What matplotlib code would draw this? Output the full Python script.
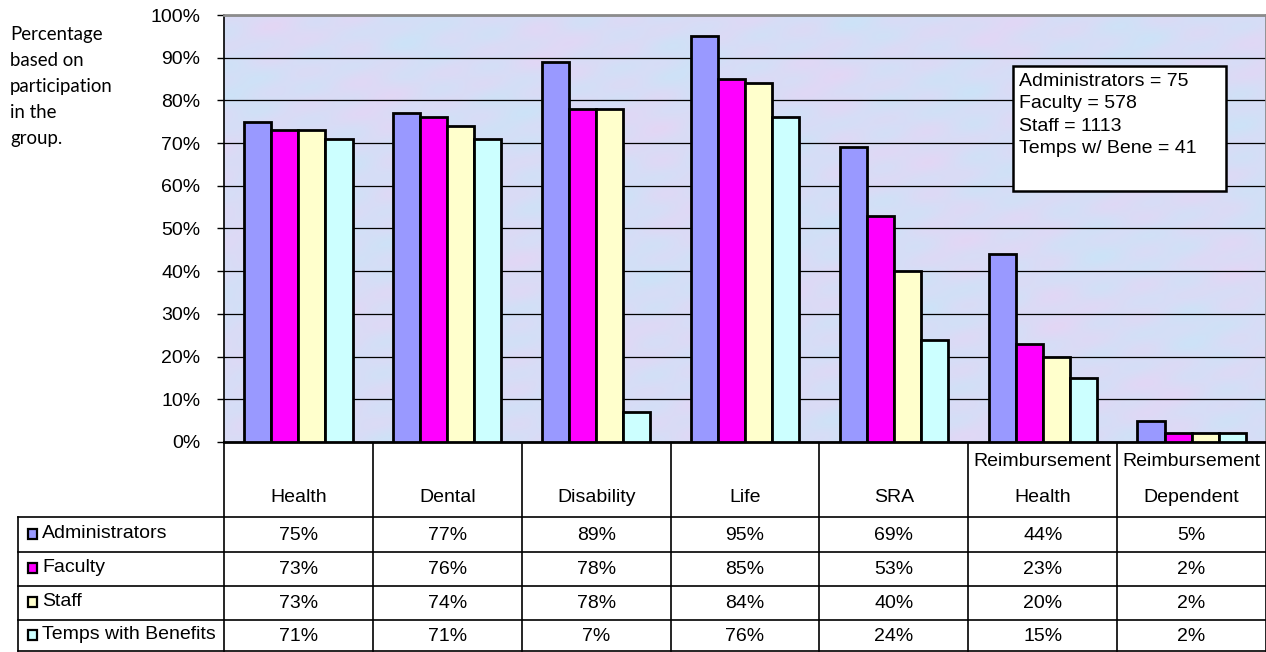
import numpy as np
import matplotlib.pyplot as plt
from matplotlib.patches import Rectangle

plt.rcParams['font.family'] = ['Liberation Sans', 'DejaVu Sans']

# data
categories = ['Health', 'Dental', 'Disability', 'Life', 'SRA',
              'Reimbursement\nHealth', 'Reimbursement\nDependent']
series = ['Administrators', 'Faculty', 'Staff', 'Temps with Benefits']
administrators = [75, 77, 89, 95, 69, 44, 5]
faculty = [73, 76, 78, 85, 53, 23, 2]
staff = [73, 74, 78, 84, 40, 20, 2]
temps = [71, 71, 7, 76, 24, 15, 2]
values = [administrators, faculty, staff, temps]
colors = ['#9999FF', '#FF00FF', '#FFFFCC', '#CCFFFF']
counts_text = 'Administrators = 75\nFaculty = 578\nStaff = 1113\nTemps w/ Bene = 41'

W, H = 1266, 652
fig = plt.figure(figsize=(W / 100, H / 100), dpi=100)
fs = 14

# plot area in pixels
left, right, top, bottom = 224, 1266, 15, 442
ax = fig.add_axes([left / W, (H - bottom) / H, (right - left) / W, (bottom - top) / H])

# textured-looking background
gx, gy = np.meshgrid(np.linspace(0, 1, 400), np.linspace(0, 1, 200))
tex = (np.sin(gx * 23 + gy * 7) * np.cos(gy * 19 - gx * 5)
       + 0.6 * np.sin(gx * 61 - gy * 43) * np.sin(gy * 37 + gx * 11)
       + 0.4 * np.cos(gx * 97 + gy * 83))
tex = (tex - tex.min()) / (tex.max() - tex.min())
blue = np.array([0.80, 0.89, 0.97])
pink = np.array([0.89, 0.84, 0.96])
img = blue[None, None, :] * (1 - tex[..., None]) + pink[None, None, :] * tex[..., None]
ax.imshow(img, extent=[-0.5, 6.5, 0, 100], aspect='auto', zorder=0, interpolation='bicubic')

n = len(series)
bw = 1 / 5.5
x = np.arange(len(categories))
for i, (vals, c) in enumerate(zip(values, colors)):
    ax.bar(x + (i - (n - 1) / 2) * bw, vals, bw, color=c, edgecolor='black',
           linewidth=2, zorder=3)

ax.set_xlim(-0.5, 6.5)
ax.set_ylim(0, 100)
ax.set_yticks(np.arange(0, 101, 10))
ax.set_yticklabels([f'{v}%' for v in range(0, 101, 10)], fontsize=fs)
ax.yaxis.grid(True, color='black', linewidth=0.9, zorder=1)
ax.set_axisbelow(True)
ax.set_xticks([])
ax.tick_params(axis='y', length=5, width=1, pad=12)
for s in ['top', 'right']:
    ax.spines[s].set_color('#8c8c8c')
    ax.spines[s].set_linewidth(2)
ax.spines['left'].set_linewidth(1.2)
ax.spines['bottom'].set_linewidth(2)

# counts box (pixel coordinates converted to axes fractions)
bx0, bx1, by0, by1 = 1013, 1226, 66, 191
ax.add_patch(Rectangle(((bx0 - left) / (right - left), (bottom - by1) / (bottom - top)),
                       (bx1 - bx0) / (right - left), (by1 - by0) / (bottom - top),
                       transform=ax.transAxes, fc='white', ec='black', lw=1.8, zorder=4))
ax.text((1019 - left) / (right - left), (bottom - 73) / (bottom - top), counts_text,
        transform=ax.transAxes, fontsize=fs, va='top', ha='left',
        linespacing=1.42, zorder=5)

# side note
fig.text(10 / W, 1 - 26 / H, 'Percentage\nbased on\nparticipation\nin the\ngroup.',
         family=['Lato', 'DejaVu Sans'], fontsize=13.4, va='top', ha='left',
         linespacing=1.65)

# data table drawn in pixel coordinates
fig.canvas.draw()
tab = fig.add_axes([0, 0, 1, 1], zorder=-1)
tab.set_xlim(0, W)
tab.set_ylim(H, 0)
tab.axis('off')
edges = [ax.transData.transform((k - 0.5, 0))[0] for k in range(len(categories) + 1)]
centers = [ax.transData.transform((k, 0))[0] for k in range(len(categories))]
row_lines = [517, 552, 586, 620, 651]
lab_left = 18
lk = dict(color='black', lw=1.2)
for e in edges:
    tab.plot([e, e], [bottom, row_lines[-1]], **lk)
tab.plot([lab_left, lab_left], [row_lines[0], row_lines[-1]], **lk)
for r in row_lines:
    tab.plot([lab_left, edges[-1]], [r, r], **lk)

for cx, cat in zip(centers, categories):
    lines = cat.split('\n')
    if len(lines) == 2:
        tab.text(cx, 462, lines[0], ha='center', va='center', fontsize=fs)
    tab.text(cx, 498, lines[-1], ha='center', va='center', fontsize=fs)

for j, (name, vals, c) in enumerate(zip(series, values, colors)):
    yc = (row_lines[j] + row_lines[j + 1]) / 2
    tab.add_patch(Rectangle((28, yc - 6), 9, 10, fc=c, ec='black', lw=1.6))
    tab.text(42, yc - 1, name, ha='left', va='center', fontsize=fs)
    for cx, v in zip(centers, vals):
        tab.text(cx, yc + 1, f'{v}%', ha='center', va='center', fontsize=fs)

fig.savefig('out.png', dpi=100)
